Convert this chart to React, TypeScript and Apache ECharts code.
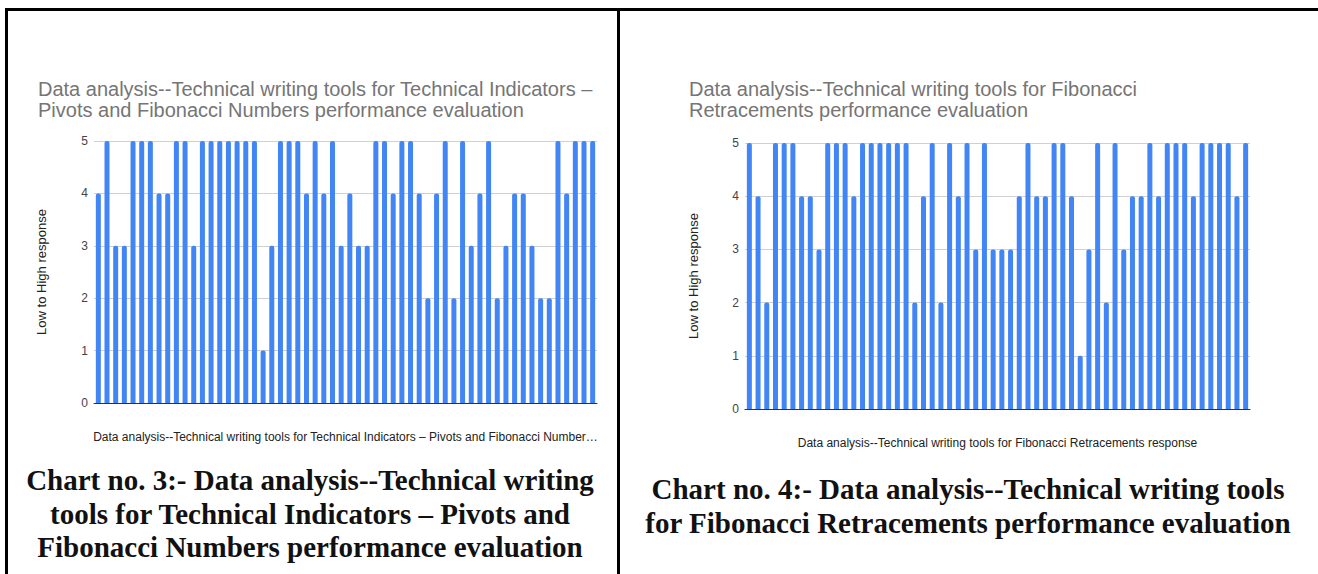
import React, { useEffect, useRef } from "react";
import * as echarts from "echarts";

// Chart no. 3 — Technical Indicators – Pivots and Fibonacci Numbers (58 responses)
const chart3Values = [
  4, 5, 3, 3, 5, 5, 5, 4, 4, 5, 5, 3, 5, 5, 5, 5, 5, 5, 5, 1, 3, 5, 5, 5, 4, 5,
  4, 5, 3, 4, 3, 3, 5, 5, 4, 5, 5, 4, 2, 4, 5, 2, 5, 3, 4, 5, 2, 3, 4, 4, 3, 2,
  2, 5, 4, 5, 5, 5,
];

// Chart no. 4 — Fibonacci Retracements (58 responses)
const chart4Values = [
  5, 4, 2, 5, 5, 5, 4, 4, 3, 5, 5, 5, 4, 5, 5, 5, 5, 5, 5, 2, 4, 5, 2, 5, 4, 5,
  3, 5, 3, 3, 3, 4, 5, 4, 4, 5, 5, 4, 1, 3, 5, 2, 5, 3, 4, 4, 5, 4, 5, 5, 5, 4,
  5, 5, 5, 5, 4, 5,
];

const chart3Categories = chart3Values.map((_, i) => String(i + 1));
const chart4Categories = chart4Values.map((_, i) => String(i + 1));

const yTickValues = [0, 1, 2, 3, 4, 5];

const chart3Title =
  "Data analysis--Technical writing tools for Technical Indicators –\nPivots and Fibonacci Numbers performance evaluation";
const chart4Title =
  "Data analysis--Technical writing tools for Fibonacci\nRetracements performance evaluation";
const yAxisName = "Low to High response";
const chart3XName =
  "Data analysis--Technical writing tools for Technical Indicators – Pivots and Fibonacci Number…";
const chart4XName =
  "Data analysis--Technical writing tools for Fibonacci Retracements response";

const chart3Caption = [
  "Chart no. 3:- Data analysis--Technical writing",
  "tools for Technical Indicators – Pivots and",
  "Fibonacci Numbers performance evaluation",
];
const chart4Caption = [
  "Chart no. 4:- Data analysis--Technical writing tools",
  "for Fibonacci Retracements performance evaluation",
];

const SANS = '"Liberation Sans", Arial, sans-serif';
const SERIF = '"Liberation Serif", "Times New Roman", serif';
const BAR = "#4285F4";

function yAxis(gridIndex: number, nameGap: number) {
  return {
    type: "value" as const,
    gridIndex,
    min: yTickValues[0],
    max: yTickValues[yTickValues.length - 1],
    interval: 1,
    name: yAxisName,
    nameLocation: "middle" as const,
    nameGap,
    nameTextStyle: { fontFamily: SANS, fontSize: 13, color: "#222" },
    axisLine: { show: false },
    axisTick: { show: false },
    axisLabel: { fontFamily: SANS, fontSize: 12, color: "#444", margin: 6 },
    splitLine: { show: true, lineStyle: { color: "#d0d0d0", width: 1 } },
  };
}

function xAxis(gridIndex: number, data: string[], name: string) {
  return {
    type: "category" as const,
    gridIndex,
    data,
    name,
    nameLocation: "middle" as const,
    nameGap: 28,
    nameTextStyle: { fontFamily: SANS, fontSize: 12, color: "#222" },
    axisLine: { show: true, lineStyle: { color: "#333", width: 1 } },
    axisTick: { show: false },
    axisLabel: { show: false },
    splitLine: { show: false },
  };
}

export default function App() {
  const ref = useRef<HTMLDivElement>(null);

  useEffect(() => {
    if (!ref.current) return;
    const chart = echarts.init(ref.current, undefined, { renderer: "svg" });

    const captionTexts: any[] = [];
    const c3Middles = [480, 513.5, 547];
    chart3Caption.forEach((line, i) => {
      captionTexts.push({
        type: "text",
        style: {
          text: line,
          x: 310,
          y: c3Middles[i],
          align: "center",
          verticalAlign: "middle",
          font: `bold 29px ${SERIF}`,
          fill: "#111",
        },
      });
    });
    const c4Middles = [489, 523];
    chart4Caption.forEach((line, i) => {
      captionTexts.push({
        type: "text",
        style: {
          text: line,
          x: 968,
          y: c4Middles[i],
          align: "center",
          verticalAlign: "middle",
          font: `bold 29px ${SERIF}`,
          fill: "#111",
        },
      });
    });

    chart.setOption({
      animation: false,
      backgroundColor: "#ffffff",
      title: [
        {
          text: chart3Title,
          left: 38,
          top: 78,
          padding: 0,
          textStyle: {
            fontFamily: SANS,
            fontSize: 20,
            lineHeight: 21,
            fontWeight: "normal",
            color: "#757575",
          },
        },
        {
          text: chart4Title,
          left: 689,
          top: 78,
          padding: 0,
          textStyle: {
            fontFamily: SANS,
            fontSize: 20,
            lineHeight: 21,
            fontWeight: "normal",
            color: "#757575",
          },
        },
      ],
      grid: [
        { left: 94, top: 141, width: 503, height: 262 },
        { left: 745, top: 143, width: 505, height: 266 },
      ],
      xAxis: [
        xAxis(0, chart3Categories, chart3XName),
        xAxis(1, chart4Categories, chart4XName),
      ],
      yAxis: [yAxis(0, 46), yAxis(1, 45)],
      series: [
        {
          type: "bar",
          xAxisIndex: 0,
          yAxisIndex: 0,
          data: chart3Values,
          barWidth: 5,
          itemStyle: { color: BAR, borderRadius: [2, 2, 0, 0] },
        },
        {
          type: "bar",
          xAxisIndex: 1,
          yAxisIndex: 1,
          data: chart4Values,
          barWidth: 5,
          itemStyle: { color: BAR, borderRadius: [2, 2, 0, 0] },
        },
      ],
      graphic: [
        { type: "rect", shape: { x: 5, y: 8, width: 1313, height: 3 }, style: { fill: "#000" } },
        { type: "rect", shape: { x: 5, y: 8, width: 3, height: 566 }, style: { fill: "#000" } },
        { type: "rect", shape: { x: 617, y: 8, width: 3, height: 566 }, style: { fill: "#000" } },
        ...captionTexts,
      ],
    });

    return () => chart.dispose();
  }, []);

  return (
    <div
      ref={ref}
      style={{
        position: "absolute",
        left: 0,
        top: 0,
        width: 1318,
        height: 574,
        background: "#fff",
      }}
    />
  );
}
